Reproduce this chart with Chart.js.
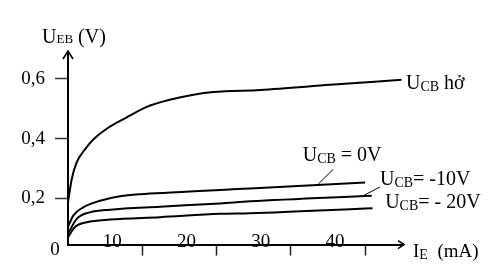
<!DOCTYPE html>
<html>
<head>
<meta charset="utf-8">
<script src="https://cdn.jsdelivr.net/npm/chart.js@4.4.0/dist/chart.umd.min.js"></script>
<style>
  html, body { margin: 0; padding: 0; background: #fff; }
  #chart { display: block; }
</style>
</head>
<body>
<canvas id="chart" width="499" height="266"></canvas>
<script>
// I_E (mA) / U_EB (V), one pair of arrays per curve
const ieOpen  = [0, 0.5, 1.17, 2.29, 3.41, 5.21, 7.91, 10.6, 13.7, 16.9, 19.6, 25.9, 35.3, 44.9];
const uebOpen = [0.187, 0.264, 0.320, 0.364, 0.397, 0.433, 0.471, 0.506, 0.530, 0.547, 0.556, 0.563, 0.580, 0.597];

const ie0V  = [0, 0.71, 2.06, 4.31, 7.0, 9.7, 14.6, 20.5, 24.5, 40.0];
const ueb0V = [0.104, 0.142, 0.170, 0.192, 0.207, 0.214, 0.220, 0.228, 0.233, 0.253];

const ie10V  = [0, 1.17, 2.96, 5.66, 12.4, 20.5, 24.5, 40.9];
const ueb10V = [0.081, 0.131, 0.153, 0.162, 0.172, 0.183, 0.190, 0.209];

const ie20V  = [0, 0.94, 2.52, 5.66, 12.4, 20.5, 24.5, 41.0];
const ueb20V = [0.070, 0.104, 0.120, 0.129, 0.137, 0.148, 0.150, 0.167];

const xTicks = [10, 20, 30, 40];
const yTicks = [0.2, 0.4, 0.6];
const curveLabels = [' hở', ' = 0V', '= -10V', '= - 20V'];

const FONT = '"Liberation Serif", "Times New Roman", serif';
Chart.defaults.font.family = FONT;
Chart.defaults.color = '#000';

function toPoints(xs, ys) {
    return xs.map((v, i) => ({ x: v, y: ys[i] }));
}

function curve(xs, ys) {
    return {
        data: toPoints(xs, ys),
        showLine: true,
        borderColor: '#000',
        borderWidth: 2,
        pointRadius: 0,
        cubicInterpolationMode: 'monotone',
        clip: false
    };
}

// draws "U" + subscript + rest, left aligned on a baseline
function drawSub(ctx, x, y, main, sub, rest, size, subSize, subDrop) {
    ctx.font = size + 'px ' + FONT;
    ctx.fillText(main, x, y);
    x += ctx.measureText(main).width;
    ctx.font = subSize + 'px ' + FONT;
    ctx.fillText(sub, x, y + subDrop);
    x += ctx.measureText(sub).width;
    ctx.font = size + 'px ' + FONT;
    ctx.fillText(rest, x, y);
}

const extras = {
    id: 'extras',
    afterDraw(chart) {
        const { ctx, chartArea: a, scales: { x, y } } = chart;
        ctx.save();
        ctx.strokeStyle = '#000';
        ctx.fillStyle = '#000';
        ctx.textBaseline = 'alphabetic';
        ctx.textAlign = 'left';

        // axis arrows
        ctx.lineWidth = 1.6;
        ctx.beginPath();
        ctx.moveTo(a.left - 5, a.top + 7);
        ctx.lineTo(a.left, a.top - 1);
        ctx.lineTo(a.left + 5, a.top + 7);
        ctx.moveTo(a.right - 5, a.bottom - 4);
        ctx.lineTo(a.right + 1, a.bottom);
        ctx.lineTo(a.right - 5, a.bottom + 4);
        ctx.stroke();

        // axis titles
        drawSub(ctx, a.left - 26, a.top - 9, 'U', 'EB', ' (V)', 20, 13, 0);
        drawSub(ctx, a.right + 10, a.bottom + 12, 'I', 'E', '  (mA)', 19, 14, 2);

        // origin
        ctx.font = '19px ' + FONT;
        ctx.textAlign = 'center';
        ctx.fillText('0', a.left - 13, a.bottom + 10);
        ctx.textAlign = 'left';

        // curve labels
        const anchors = [[45.5, 0.566], [31.6, 0.325], [42.0, 0.244], [42.7, 0.167]];
        curveLabels.forEach((t, i) => {
            drawSub(ctx, x.getPixelForValue(anchors[i][0]), y.getPixelForValue(anchors[i][1]),
                'U', 'CB', t, 20, 14, 2);
        });

        // leader lines
        ctx.lineWidth = 1;
        [[33.7, 0.248, 35.7, 0.297], [39.7, 0.208, 42.0, 0.238]].forEach(l => {
            ctx.beginPath();
            ctx.moveTo(x.getPixelForValue(l[0]), y.getPixelForValue(l[1]));
            ctx.lineTo(x.getPixelForValue(l[2]), y.getPixelForValue(l[3]));
            ctx.stroke();
        });
        ctx.restore();
    }
};

new Chart(document.getElementById('chart'), {
    type: 'scatter',
    data: {
        datasets: [
            curve(ieOpen, uebOpen),
            curve(ie0V, ueb0V),
            curve(ie10V, ueb10V),
            curve(ie20V, ueb20V)
        ]
    },
    options: {
        responsive: false,
        animation: false,
        layout: { padding: { left: 0, right: 96, top: 52, bottom: 0 } },
        plugins: { legend: { display: false }, tooltip: { enabled: false } },
        scales: {
            x: {
                type: 'linear',
                min: 0,
                max: 45.1,
                afterBuildTicks: s => { s.ticks = xTicks.map(v => ({ value: v })); },
                afterFit: s => { s.height = 20; },
                ticks: {
                    font: { size: 19 },
                    color: '#000',
                    mirror: true,
                    padding: -9,
                    labelOffset: -30,
                    maxRotation: 0,
                    autoSkip: false
                },
                grid: { drawOnChartArea: false, tickLength: 11, tickWidth: 1.5, tickColor: '#222' },
                border: { color: '#000', width: 2 }
            },
            y: {
                type: 'linear',
                min: 0.045,
                max: 0.69,
                afterBuildTicks: s => { s.ticks = yTicks.map(v => ({ value: v })); },
                afterFit: s => { s.width = 68; },
                ticks: {
                    font: { size: 19 },
                    color: '#000',
                    padding: 10,
                    callback: v => v.toFixed(1).replace('.', ',')
                },
                grid: { drawOnChartArea: false, tickLength: 13, tickWidth: 1.5, tickColor: '#333' },
                border: { color: '#000', width: 2 }
            }
        }
    },
    plugins: [extras]
});
</script>
</body>
</html>
